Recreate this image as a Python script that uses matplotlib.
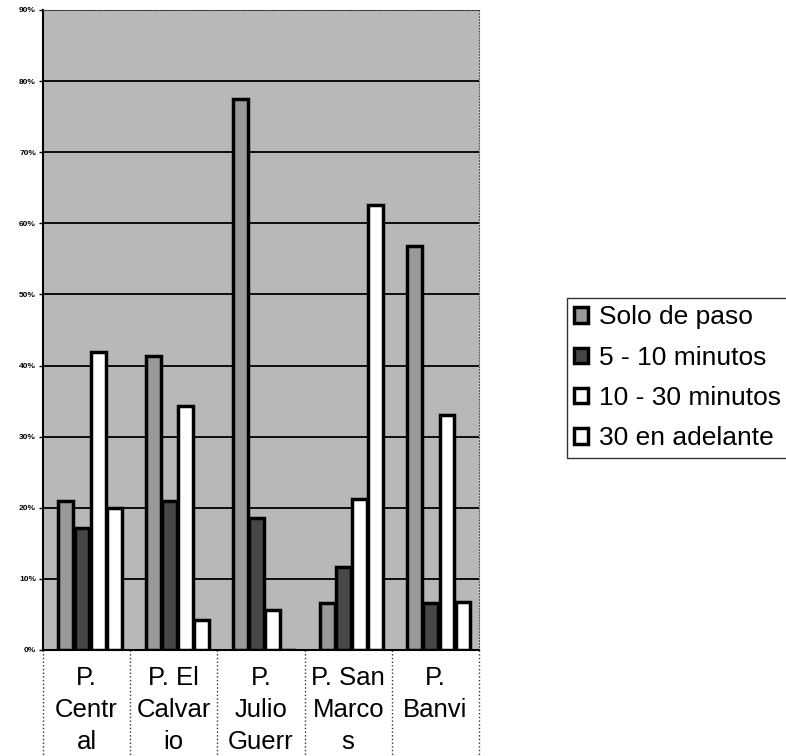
import matplotlib.pyplot as plt
import numpy as np


CATEGORIES = ["P.\nCentr\nal", "P. El\nCalvar\nio", "P.\nJulio\nGuerr", "P. San\nMarco\ns", "P.\nBanvi"]

SERIES_NAMES = ["Solo de paso", "5 - 10 minutos", "10 - 30 minutos", "30 en adelante"]

SOLO_DE_PASO = [21.0, 41.3, 77.5, 6.6, 56.8]
CINCO_DIEZ = [17.2, 21.0, 18.6, 11.7, 6.6]
DIEZ_TREINTA = [41.9, 34.3, 5.6, 21.3, 33.0]
TREINTA_MAS = [20.0, 4.2, 0.0, 62.6, 6.7]

Y_TICKS = [0, 10, 20, 30, 40, 50, 60, 70, 80, 90]

COLORS = ["#999999", "#474747", "#ffffff", "#ffffff"]


# =========================================================
# FIGURE
# =========================================================

plt.rcParams['font.family'] = ['Liberation Sans', 'DejaVu Sans']

fig = plt.figure(figsize=(7.86, 7.56), dpi=100)

ax = fig.add_axes([43 / 786, 1 - 650 / 756, 436 / 786, 640 / 756])

ax.set_facecolor("#b8b8b8")

x = np.arange(len(CATEGORIES))

width = 0.17

series = [SOLO_DE_PASO, CINCO_DIEZ, DIEZ_TREINTA, TREINTA_MAS]

for i, values in enumerate(series):

    ax.bar(
        x + (i - 1.5) * 0.185 + 0.04,
        values,
        width,
        color=COLORS[i],
        edgecolor="black",
        linewidth=2.5,
        label=SERIES_NAMES[i],
        zorder=3
    )

ax.set_xlim(-0.5, len(CATEGORIES) - 0.5)
ax.set_ylim(0, 90)

# gridlines
ax.set_yticks(Y_TICKS)
ax.set_yticklabels([f"{t}%" for t in Y_TICKS], fontsize=6, fontweight="bold")
ax.yaxis.grid(True, color="black", linewidth=1.3, zorder=1)
ax.set_axisbelow(True)
ax.tick_params(axis="y", length=3, width=1, pad=2)

ax.set_xticks([])

for side in ["top", "right"]:
    ax.spines[side].set_color("#555555")
    ax.spines[side].set_linestyle(":")
ax.spines["left"].set_linewidth(1.5)
ax.spines["bottom"].set_linewidth(1.5)

# category label table
trans = ax.get_xaxis_transform()

for b in np.arange(-0.5, len(CATEGORIES) + 0.5, 1):
    ax.plot([b, b], [0, -0.2], transform=trans, color="#333333",
            linestyle=":", linewidth=1, clip_on=False)

for i, name in enumerate(CATEGORIES):
    ax.text(i, -0.025, name, transform=trans, ha="center", va="top",
            fontsize=18.5, linespacing=1.42)

# legend
leg = fig.legend(
    loc="upper left",
    bbox_to_anchor=(567 / 786, 1 - 298 / 756),
    fontsize=19,
    frameon=True,
    fancybox=False,
    edgecolor="black",
    handlelength=0.52,
    handleheight=0.52,
    handletextpad=0.4,
    labelspacing=0.62,
    borderpad=0.28,
    borderaxespad=0
)
leg.get_frame().set_linewidth(1)

fig.savefig("out.png", dpi=100)
